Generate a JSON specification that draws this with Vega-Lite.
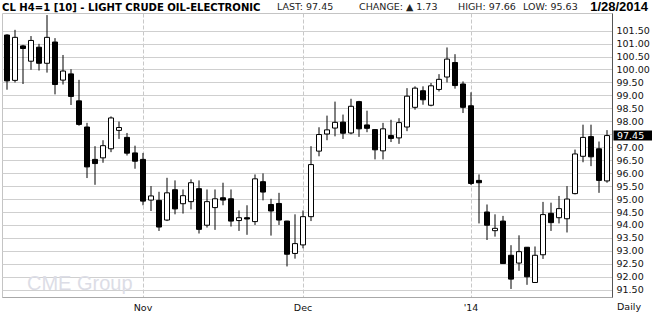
{
  "$schema": "https://vega.github.io/schema/vega-lite/v6.json",
  "width": 610,
  "height": 284,
  "autosize": {"type": "none"},
  "padding": {"left": 2, "top": 13, "right": 45, "bottom": 21},
  "background": "white",
  "config": {
    "view": {"stroke": "#c4c4c4", "strokeWidth": 1},
    "axis": {"labelFont": "DejaVu Sans", "labelFontSize": 9.5, "labelColor": "#111111", "titleFont": "DejaVu Sans", "labelOverlap": false}
  },
  "datasets": {
    "candles": [
      {"date": "2013-10-09", "open": 101.33, "high": 101.36, "low": 99.22, "close": 99.56},
      {"date": "2013-10-10", "open": 99.58, "high": 101.53, "low": 99.50, "close": 101.24},
      {"date": "2013-10-11", "open": 100.91, "high": 100.95, "low": 99.44, "close": 100.81},
      {"date": "2013-10-14", "open": 100.32, "high": 101.29, "low": 99.99, "close": 101.12},
      {"date": "2013-10-15", "open": 100.86, "high": 100.99, "low": 99.96, "close": 100.24},
      {"date": "2013-10-16", "open": 100.24, "high": 102.10, "low": 99.88, "close": 101.24},
      {"date": "2013-10-17", "open": 101.06, "high": 101.21, "low": 99.04, "close": 99.42},
      {"date": "2013-10-18", "open": 99.59, "high": 100.56, "low": 99.42, "close": 99.94},
      {"date": "2013-10-21", "open": 99.83, "high": 100.01, "low": 98.63, "close": 98.96},
      {"date": "2013-10-22", "open": 98.79, "high": 99.60, "low": 97.83, "close": 97.88},
      {"date": "2013-10-23", "open": 97.78, "high": 97.94, "low": 95.81, "close": 96.24},
      {"date": "2013-10-24", "open": 96.53, "high": 97.04, "low": 95.55, "close": 96.37},
      {"date": "2013-10-25", "open": 96.59, "high": 97.27, "low": 96.40, "close": 97.06},
      {"date": "2013-10-28", "open": 96.94, "high": 98.19, "low": 96.81, "close": 98.13},
      {"date": "2013-10-29", "open": 97.65, "high": 97.99, "low": 97.32, "close": 97.76},
      {"date": "2013-10-30", "open": 97.38, "high": 97.55, "low": 96.68, "close": 96.77},
      {"date": "2013-10-31", "open": 96.78, "high": 97.06, "low": 96.17, "close": 96.46},
      {"date": "2013-11-01", "open": 96.53, "high": 96.78, "low": 94.76, "close": 94.92},
      {"date": "2013-11-04", "open": 94.96, "high": 95.50, "low": 94.54, "close": 95.12},
      {"date": "2013-11-05", "open": 94.95, "high": 95.28, "low": 93.77, "close": 93.92},
      {"date": "2013-11-06", "open": 94.19, "high": 95.82, "low": 94.15, "close": 95.24},
      {"date": "2013-11-07", "open": 95.36, "high": 95.72, "low": 94.41, "close": 94.62},
      {"date": "2013-11-08", "open": 94.82, "high": 95.37, "low": 94.44, "close": 95.13},
      {"date": "2013-11-11", "open": 94.90, "high": 95.76, "low": 94.60, "close": 95.63},
      {"date": "2013-11-12", "open": 95.40, "high": 95.72, "low": 93.67, "close": 93.83},
      {"date": "2013-11-13", "open": 93.99, "high": 95.37, "low": 93.90, "close": 94.90},
      {"date": "2013-11-14", "open": 94.67, "high": 95.37, "low": 93.81, "close": 95.01},
      {"date": "2013-11-15", "open": 95.05, "high": 95.63, "low": 94.76, "close": 94.96},
      {"date": "2013-11-18", "open": 95.01, "high": 95.37, "low": 93.94, "close": 94.15},
      {"date": "2013-11-19", "open": 94.17, "high": 94.56, "low": 93.77, "close": 94.28},
      {"date": "2013-11-20", "open": 94.28, "high": 94.76, "low": 93.62, "close": 94.23},
      {"date": "2013-11-21", "open": 94.13, "high": 95.95, "low": 94.00, "close": 95.78},
      {"date": "2013-11-22", "open": 95.67, "high": 95.99, "low": 94.95, "close": 95.27},
      {"date": "2013-11-25", "open": 94.79, "high": 95.01, "low": 93.59, "close": 94.54},
      {"date": "2013-11-26", "open": 94.83, "high": 95.24, "low": 94.00, "close": 94.19},
      {"date": "2013-11-27", "open": 94.15, "high": 94.16, "low": 92.40, "close": 92.87},
      {"date": "2013-11-29", "open": 92.90, "high": 94.41, "low": 92.70, "close": 93.28},
      {"date": "2013-12-02", "open": 93.23, "high": 94.56, "low": 93.10, "close": 94.32},
      {"date": "2013-12-03", "open": 94.32, "high": 97.04, "low": 94.15, "close": 96.33},
      {"date": "2013-12-04", "open": 96.85, "high": 97.77, "low": 96.65, "close": 97.49},
      {"date": "2013-12-05", "open": 97.51, "high": 98.22, "low": 97.27, "close": 97.67},
      {"date": "2013-12-06", "open": 97.74, "high": 98.76, "low": 97.42, "close": 97.96},
      {"date": "2013-12-09", "open": 97.97, "high": 98.26, "low": 97.32, "close": 97.54},
      {"date": "2013-12-10", "open": 97.55, "high": 98.87, "low": 97.50, "close": 98.58},
      {"date": "2013-12-11", "open": 98.76, "high": 98.79, "low": 97.40, "close": 97.71},
      {"date": "2013-12-12", "open": 97.86, "high": 98.41, "low": 97.58, "close": 97.73},
      {"date": "2013-12-13", "open": 97.68, "high": 97.69, "low": 96.53, "close": 96.90},
      {"date": "2013-12-16", "open": 96.86, "high": 97.94, "low": 96.53, "close": 97.71},
      {"date": "2013-12-17", "open": 97.45, "high": 98.06, "low": 97.20, "close": 97.34},
      {"date": "2013-12-18", "open": 97.36, "high": 98.12, "low": 97.13, "close": 97.95},
      {"date": "2013-12-19", "open": 97.78, "high": 99.28, "low": 97.62, "close": 98.97},
      {"date": "2013-12-20", "open": 98.54, "high": 99.35, "low": 98.45, "close": 99.28},
      {"date": "2013-12-23", "open": 99.18, "high": 99.35, "low": 98.64, "close": 98.83},
      {"date": "2013-12-24", "open": 98.62, "high": 99.48, "low": 98.58, "close": 99.37},
      {"date": "2013-12-26", "open": 99.23, "high": 99.82, "low": 99.15, "close": 99.62},
      {"date": "2013-12-27", "open": 99.71, "high": 100.85, "low": 99.50, "close": 100.40},
      {"date": "2013-12-30", "open": 100.27, "high": 100.59, "low": 99.26, "close": 99.38},
      {"date": "2013-12-31", "open": 99.44, "high": 99.54, "low": 98.32, "close": 98.54},
      {"date": "2014-01-02", "open": 98.60, "high": 99.12, "low": 95.54, "close": 95.60},
      {"date": "2014-01-03", "open": 95.72, "high": 95.95, "low": 94.06, "close": 95.63},
      {"date": "2014-01-06", "open": 94.50, "high": 94.79, "low": 93.42, "close": 93.99},
      {"date": "2014-01-07", "open": 93.78, "high": 94.41, "low": 93.55, "close": 93.87},
      {"date": "2014-01-08", "open": 94.15, "high": 94.35, "low": 92.50, "close": 92.51},
      {"date": "2014-01-09", "open": 92.83, "high": 93.22, "low": 91.53, "close": 91.91},
      {"date": "2014-01-10", "open": 92.53, "high": 93.60, "low": 92.23, "close": 92.97},
      {"date": "2014-01-13", "open": 93.14, "high": 93.15, "low": 91.69, "close": 92.00},
      {"date": "2014-01-14", "open": 91.78, "high": 93.17, "low": 91.77, "close": 92.83},
      {"date": "2014-01-15", "open": 92.85, "high": 94.89, "low": 92.69, "close": 94.40},
      {"date": "2014-01-16", "open": 94.45, "high": 94.86, "low": 93.77, "close": 94.09},
      {"date": "2014-01-17", "open": 94.28, "high": 95.12, "low": 94.06, "close": 94.63},
      {"date": "2014-01-21", "open": 94.24, "high": 95.50, "low": 93.71, "close": 95.00},
      {"date": "2014-01-22", "open": 95.21, "high": 96.91, "low": 95.18, "close": 96.74},
      {"date": "2014-01-23", "open": 96.65, "high": 97.87, "low": 96.42, "close": 97.38},
      {"date": "2014-01-24", "open": 97.41, "high": 97.87, "low": 96.27, "close": 96.63},
      {"date": "2014-01-27", "open": 96.94, "high": 97.22, "low": 95.24, "close": 95.72},
      {"date": "2014-01-28", "open": 95.70, "high": 97.66, "low": 95.63, "close": 97.45}
    ],
    "one": [{}]
  },
  "layer": [
    {
      "data": {"name": "candles"},
      "mark": {"type": "rule", "color": "#000000", "strokeWidth": 1, "clip": true},
      "encoding": {
        "x": {
          "field": "date", "type": "ordinal",
          "scale": {"paddingInner": 0, "paddingOuter": 0.125},
          "axis": {
            "title": null,
            "values": ["2013-11-01", "2013-12-02", "2014-01-02"],
            "labelExpr": "datum.value == '2013-11-01' ? 'Nov' : datum.value == '2013-12-02' ? 'Dec' : '\\'14'",
            "labelAngle": 0,
            "labelPadding": 5,
            "labelOverlap": false,
            "ticks": false,
            "grid": true,
            "bandPosition": 0.5,
            "gridColor": "#c8c8c8",
            "gridDash": [4, 2],
            "gridWidth": 1,
            "domainColor": "#a8a8a8",
            "domainWidth": 1
          }
        },
        "y": {
          "field": "low", "type": "quantitative",
          "scale": {"domain": [91.22, 102.18], "zero": false, "nice": false},
          "axis": {
            "orient": "right",
            "title": null,
            "tickCount": 40,
            "values": [91.5, 92, 92.5, 93, 93.5, 94, 94.5, 95, 95.5, 96, 96.5, 97, 97.5, 98, 98.5, 99, 99.5, 100, 100.5, 101, 101.5],
            "labelExpr": "datum.value == 97.5 ? '' : format(datum.value, '.2f')",
            "labelOverlap": false,
            "labelBound": false,
            "ticks": false,
            "labelPadding": 4,
            "grid": true,
            "gridColor": "#cfcfcf",
            "gridWidth": 1,
            "domainColor": "#555555",
            "domainWidth": 1
          }
        },
        "y2": {"field": "high"}
      }
    },
    {
      "data": {"name": "candles"},
      "mark": {"type": "bar", "width": 5, "stroke": "#000000", "strokeWidth": 1, "clip": true},
      "encoding": {
        "x": {"field": "date", "type": "ordinal"},
        "y": {
          "field": "open", "type": "quantitative",
          "axis": {
            "orient": "right",
            "title": null,
            "tickCount": 40,
            "values": [91.5, 92, 92.5, 93, 93.5, 94, 94.5, 95, 95.5, 96, 96.5, 97, 97.5, 98, 98.5, 99, 99.5, 100, 100.5, 101, 101.5],
            "labelExpr": "datum.value == 97.5 ? '' : format(datum.value, '.2f')",
            "labelOverlap": false,
            "labelBound": false,
            "ticks": false,
            "labelPadding": 4,
            "grid": true,
            "gridColor": "#cfcfcf",
            "gridWidth": 1,
            "domainColor": "#555555",
            "domainWidth": 1
          }
        },
        "y2": {"field": "close"},
        "fill": {
          "condition": {"test": "datum.close >= datum.open", "value": "#ffffff"},
          "value": "#000000"
        }
      }
    },
    {
      "data": {"name": "candles"},
      "transform": [{"filter": "datum.date == '2014-01-28'"}],
      "mark": {"type": "rect", "fill": "#000000", "x": {"expr": "width + 1.5"}, "x2": {"expr": "width + 40"}, "yOffset": -5, "y2Offset": 5},
      "encoding": {
        "y": {"field": "close", "type": "quantitative"},
        "y2": {"field": "close"}
      }
    },
    {
      "data": {"name": "candles"},
      "transform": [{"filter": "datum.date == '2014-01-28'"}],
      "mark": {"type": "text", "color": "#ffffff", "font": "DejaVu Sans", "fontSize": 9.5, "align": "left", "baseline": "middle", "x": {"expr": "width + 5"}},
      "encoding": {
        "y": {"field": "close", "type": "quantitative"},
        "text": {"field": "close", "type": "quantitative", "format": ".2f"}
      }
    },
    {
      "data": {"name": "one"},
      "mark": {"type": "text", "text": "CL H4=1 [10] - LIGHT CRUDE OIL-ELECTRONIC", "font": "DejaVu Sans Condensed", "fontWeight": "bold", "fontSize": 11.2, "color": "#000000", "align": "left", "baseline": "alphabetic", "x": {"expr": "0"}, "y": {"expr": "-2.5"}}
    },
    {
      "data": {"name": "one"},
      "mark": {"type": "text", "text": "LAST: 97.45", "font": "DejaVu Sans", "fontSize": 9.5, "color": "#222222", "align": "left", "baseline": "alphabetic", "x": {"expr": "275"}, "y": {"expr": "-3"}}
    },
    {
      "data": {"name": "one"},
      "mark": {"type": "text", "text": "CHANGE: ▲ 1.73", "font": "DejaVu Sans", "fontSize": 9.5, "color": "#222222", "align": "left", "baseline": "alphabetic", "x": {"expr": "357"}, "y": {"expr": "-3"}}
    },
    {
      "data": {"name": "one"},
      "mark": {"type": "text", "text": "HIGH: 97.66", "font": "DejaVu Sans", "fontSize": 9.5, "color": "#222222", "align": "left", "baseline": "alphabetic", "x": {"expr": "456"}, "y": {"expr": "-3"}}
    },
    {
      "data": {"name": "one"},
      "mark": {"type": "text", "text": "LOW: 95.63", "font": "DejaVu Sans", "fontSize": 9.5, "color": "#222222", "align": "left", "baseline": "alphabetic", "x": {"expr": "521"}, "y": {"expr": "-3"}}
    },
    {
      "data": {"name": "one"},
      "mark": {"type": "text", "text": "1/28/2014", "font": "Liberation Sans", "fontWeight": "bold", "fontSize": 13, "color": "#000000", "align": "right", "baseline": "alphabetic", "x": {"expr": "width + 36"}, "y": {"expr": "-2"}}
    },
    {
      "data": {"name": "one"},
      "mark": {"type": "text", "text": "Daily", "font": "DejaVu Sans", "fontSize": 9.5, "color": "#111111", "align": "left", "baseline": "alphabetic", "x": {"expr": "width + 5"}, "y": {"expr": "height + 13"}}
    },
    {
      "data": {"name": "one"},
      "mark": {"type": "text", "text": "CME Group", "font": "Liberation Sans", "fontSize": 20, "color": "#dcdde6", "align": "left", "baseline": "alphabetic", "x": {"expr": "25"}, "y": {"expr": "height - 7"}}
    }
  ]
}
